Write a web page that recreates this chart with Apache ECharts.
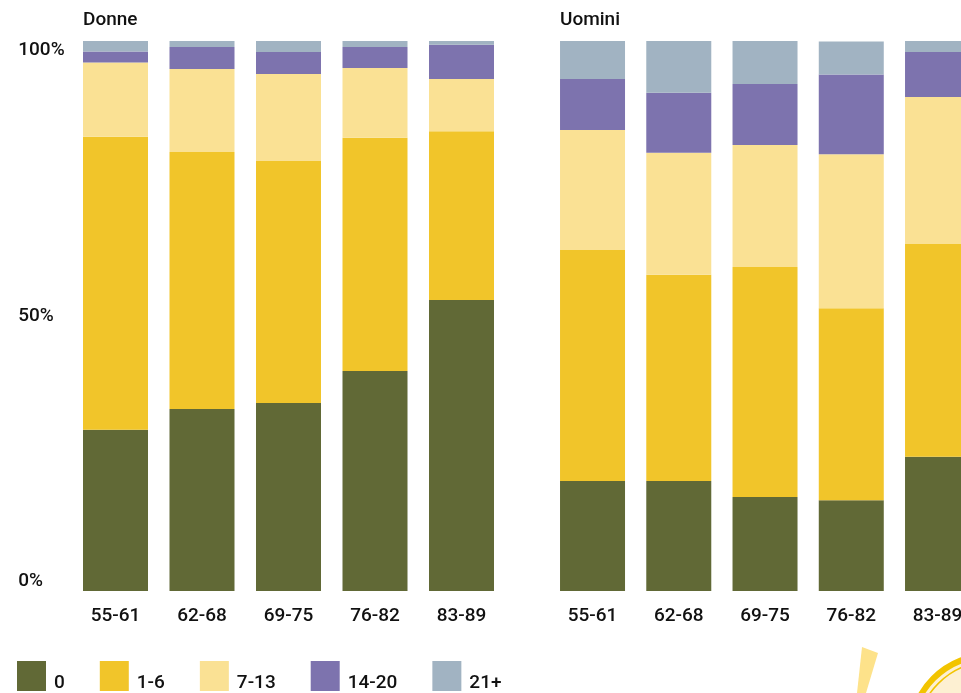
<!DOCTYPE html>
<html>
<head>
<meta charset="utf-8">
<script src="https://cdn.jsdelivr.net/npm/echarts@6/dist/echarts.min.js"></script>
<style>
	html, body { margin: 0; padding: 0; background: #fff; overflow: hidden; }
	#chart { width: 1000px; height: 693px; }
</style>
</head>
<body>
<div id="chart"></div>
<script>
var categories = ['55-61', '62-68', '69-75', '76-82', '83-89'];
var groups = ['0', '1-6', '7-13', '14-20', '21+'];
var colors = ['#616936', '#f1c52a', '#fae194', '#7d73ae', '#a1b3c2'];
var yTicks = [0, 50, 100];

// percentuali, una riga per gruppo
var donne0 = [29.3, 33.1, 34.2, 40.0, 52.9];
var donne1_6 = [53.3, 46.7, 44.0, 42.4, 30.7];
var donne7_13 = [13.5, 15.1, 15.8, 12.7, 9.5];
var donne14_20 = [2.0, 4.0, 4.0, 3.8, 6.2];
var donne21 = [2.0, 1.1, 2.0, 1.1, 0.7];

var uomini0 = [20.0, 20.0, 17.1, 16.5, 24.4];
var uomini1_6 = [42.0, 37.5, 41.8, 34.9, 38.7];
var uomini7_13 = [21.8, 22.2, 22.2, 28.0, 26.7];
var uomini14_20 = [9.3, 10.9, 11.1, 14.5, 8.2];
var uomini21 = [6.9, 9.5, 7.8, 6.0, 2.0];
</script>
<script>
(function () {
	var font = 'Roboto';
	var textColor = '#111';
	var chart = echarts.init(document.getElementById('chart'));

	var donne = [donne0, donne1_6, donne7_13, donne14_20, donne21];
	var uomini = [uomini0, uomini1_6, uomini7_13, uomini14_20, uomini21];

	function xAxisFor(idx) {
		return {
			type: 'category',
			gridIndex: idx,
			data: categories,
			axisLine: { show: false },
			axisTick: { show: false },
			axisLabel: { margin: 16, color: textColor, fontFamily: font, fontSize: 19, fontWeight: 500 }
		};
	}

	function yAxisFor(idx, showLabels) {
		return {
			type: 'value',
			gridIndex: idx,
			min: yTicks[0],
			max: yTicks[yTicks.length - 1],
			interval: 50,
			splitLine: { show: false },
			axisLine: { show: false },
			axisTick: { show: false },
			axisLabel: {
				show: showLabels,
				formatter: '{value}%',
				align: 'left',
				margin: 54,
				verticalAlignMaxLabel: 'top',
				verticalAlignMinLabel: 'bottom',
				color: textColor,
				fontFamily: font,
				fontSize: 19,
				fontWeight: 500
			}
		};
	}

	/*due pannelli: Donne e Uomini*/
	var series = [];
	[donne, uomini].forEach(function (panel, p) {
		for (var i = 0; i < groups.length; i++) {
			series.push({
				name: groups[i],
				type: 'bar',
				xAxisIndex: p,
				yAxisIndex: p,
				stack: 'panel' + p,
				barWidth: 65,
				itemStyle: { color: colors[i] },
				data: panel[i]
			});
		}
	});

	var titleStyle = { fontFamily: font, fontSize: 19, fontWeight: 500, color: textColor };

	var option = {
		backgroundColor: '#fff',
		animation: false,
		title: [
			{ text: 'Donne', left: 83, top: 11, padding: 0, textStyle: titleStyle },
			{ text: 'Uomini', left: 560, top: 11, padding: 0, textStyle: titleStyle }
		],
		legend: {
			data: groups,
			left: 17,
			top: 659,
			padding: 0,
			icon: 'rect',
			itemWidth: 29,
			itemHeight: 30,
			itemGap: 35,
			// riga vuota sopra: il testo scende verso il fondo del quadratino
			formatter: function (name) {
				return '\n' + name;
			},
			textStyle: {
				fontFamily: font, fontSize: 19, fontWeight: 500, color: textColor,
				lineHeight: 15, padding: [0, 0, 0, 3]
			}
		},
		grid: [
			{ left: 72.25, width: 432.5, top: 41, bottom: 102, outerBoundsMode: 'none' },
			{ left: 549.4, width: 431.25, top: 41, bottom: 102, outerBoundsMode: 'none' }
		],
		xAxis: [xAxisFor(0), xAxisFor(1)],
		yAxis: [yAxisFor(0, true), yAxisFor(1, false)],
		series: series,
		graphic: [
			{
				type: 'polygon',
				silent: true,
				shape: { points: [[862, 647], [878, 653], [866, 693], [857, 693]] },
				style: { fill: '#fde28a' }
			},
			{
				type: 'circle',
				silent: true,
				shape: { cx: 990, cy: 735, r: 80 },
				style: { fill: '#fdf0d2', stroke: '#f2c400', lineWidth: 6 }
			},
			{
				type: 'circle',
				silent: true,
				shape: { cx: 990, cy: 735, r: 73 },
				style: { fill: 'none', stroke: '#f2c400', lineWidth: 1.5 }
			}
		]
	};
	chart.setOption(option);
})();
</script>
</body>
</html>
